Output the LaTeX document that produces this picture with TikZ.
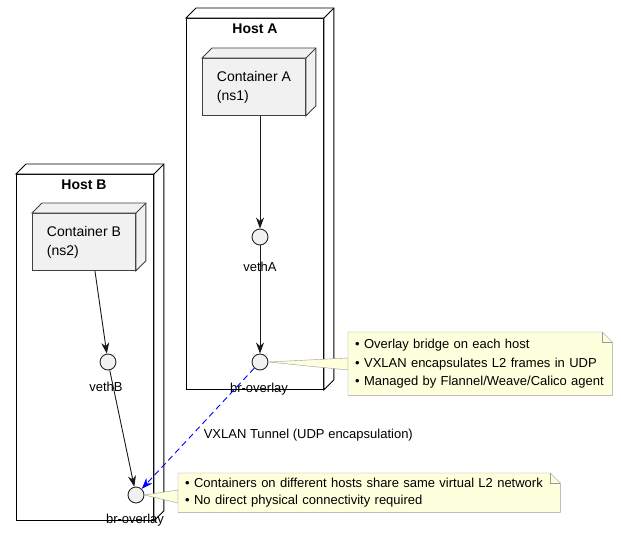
\documentclass[tikz,border=0pt]{standalone}
\usepackage{fontspec}
\setmainfont{Liberation Sans}
\usetikzlibrary{arrows.meta,calc}

\definecolor{boxgrey}{HTML}{F1F1F1}
\definecolor{notefill}{HTML}{FEFFDD}
\definecolor{noteline}{HTML}{9A9A9A}

\pgfdeclarelayer{fg}
\pgfsetlayers{main,fg}

\tikzset{
  host/.style={draw, fill=white, anchor=north west, minimum width=137pt, inner sep=0pt},
  hostname/.style={font=\fontsize{14}{16}\selectfont\bfseries},
  ctr/.style={draw=black!75, fill=boxgrey, anchor=north west, minimum width=103pt,
    minimum height=57pt, align=left, font=\fontsize{14}{19}\selectfont},
  port/.style={draw=black!85, fill=boxgrey, circle, minimum size=16pt, inner sep=0pt},
  portname/.style={font=\fontsize{13}{16}\selectfont},
  link/.style={-{Stealth[length=11pt,width=8pt,inset=3.5pt]}, black!90},
  tunnel/.style={-{Stealth[length=11pt,width=8pt,inset=3.5pt]}, blue, dash pattern=on 6pt off 4pt},
  note/.style={anchor=north west, align=left, inner xsep=7pt, inner ysep=0pt},
  notebox/.style={draw=noteline, fill=notefill},
}

\begin{document}
\begin{tikzpicture}[x=1pt,y=-1pt,line width=0.9pt]

	\useasboundingbox (0,0) rectangle (621,536);

	% hosts
	\node[host, minimum height=371pt] at (186,18) (hostA) {};
	\filldraw[fill=white] (hostA.north west) -- ++(10,-10) -- ($(hostA.north east)+(10,-10)$) -- ($(hostA.south east)+(10,-10)$) -- (hostA.south east) -- (hostA.north east) -- cycle;
	\draw (hostA.north east) -- ++(10,-10);
	\node[hostname] at (255,29) (hostAname) {Host A};

	\node[host, minimum height=346pt] at (16,174) (hostB) {};
	\filldraw[fill=white] (hostB.north west) -- ++(10,-10) -- ($(hostB.north east)+(10,-10)$) -- ($(hostB.south east)+(10,-10)$) -- (hostB.south east) -- (hostB.north east) -- cycle;
	\draw (hostB.north east) -- ++(10,-10);
	\node[hostname] at (84,185) (hostBname) {Host B};

	% containers
	\node[ctr] at (202,58) (ctrA) {Container A\\(ns1)};
	\filldraw[draw=black!75, fill=boxgrey] (ctrA.north west) -- ++(10,-10) -- ($(ctrA.north east)+(10,-10)$) -- ($(ctrA.south east)+(10,-10)$) -- (ctrA.south east) -- (ctrA.north east) -- cycle;
	\draw[black!75] (ctrA.north east) -- ++(10,-10);

	\node[ctr] at (32,213) (ctrB) {Container B\\(ns2)};
	\filldraw[draw=black!75, fill=boxgrey] (ctrB.north west) -- ++(10,-10) -- ($(ctrB.north east)+(10,-10)$) -- ($(ctrB.south east)+(10,-10)$) -- (ctrB.south east) -- (ctrB.north east) -- cycle;
	\draw[black!75] (ctrB.north east) -- ++(10,-10);

	% interfaces
	\node[port] at (260,237) (vethA) {};
	\node[port] at (260,362) (brA) {};
	\node[port] at (108,362) (vethB) {};
	\node[port] at (136,495) (brB) {};

	\draw[link] (ctrA.south -| vethA) -- (vethA);
	\draw[link] (vethA) -- (brA);
	\draw[link] ([xshift=11pt]ctrB.south) -- (vethB);
	\draw[link] (vethB) -- (brB);

	\node[portname] at (260,267) (vethAname) {vethA};
	\node[portname] at (259,389) (brAname) {br-overlay};
	\node[portname] at (106,387) (vethBname) {vethB};
	\node[portname] at (135,520) (brBname) {br-overlay};

	% tunnel
	\draw[tunnel] (brA) -- (brB);
	\node[portname, anchor=west] at (200,435) (tunname) {VXLAN Tunnel (UDP encapsulation)};

	% notes
	\begin{pgfonlayer}{fg}
	\node[note, text width=250pt, minimum height=63pt, font=\fontsize{13}{18.5}\selectfont] at (348,332) (noteA)
		{• Overlay bridge on each host\\• VXLAN encapsulates L2 frames in UDP\\• Managed by Flannel/Weave/Calico agent};
	\node[note, text width=368pt, minimum height=39pt, font=\fontsize{13}{17}\selectfont] at (178,473) (noteB)
		{• Containers on different hosts share same virtual L2 network\\• No direct physical connectivity required};
	\end{pgfonlayer}

	\filldraw[notebox] (brA.east) -- ($(noteA.north west)+(0,26)$) -- ($(noteA.north west)+(0,38)$) -- cycle;
	\filldraw[notebox] (noteA.north west) -- ($(noteA.north east)+(-10,0)$) -- ($(noteA.north east)+(0,10)$) -- (noteA.south east) -- (noteA.south west) -- cycle;
	\draw[noteline] ($(noteA.north east)+(-10,0)$) |- ($(noteA.north east)+(0,10)$);

	\filldraw[notebox] (brB.east) -- ($(noteB.north west)+(0,17)$) -- ($(noteB.north west)+(0,30)$) -- cycle;
	\filldraw[notebox] (noteB.north west) -- ($(noteB.north east)+(-10,0)$) -- ($(noteB.north east)+(0,10)$) -- (noteB.south east) -- (noteB.south west) -- cycle;
	\draw[noteline] ($(noteB.north east)+(-10,0)$) |- ($(noteB.north east)+(0,10)$);

\end{tikzpicture}
\end{document}
